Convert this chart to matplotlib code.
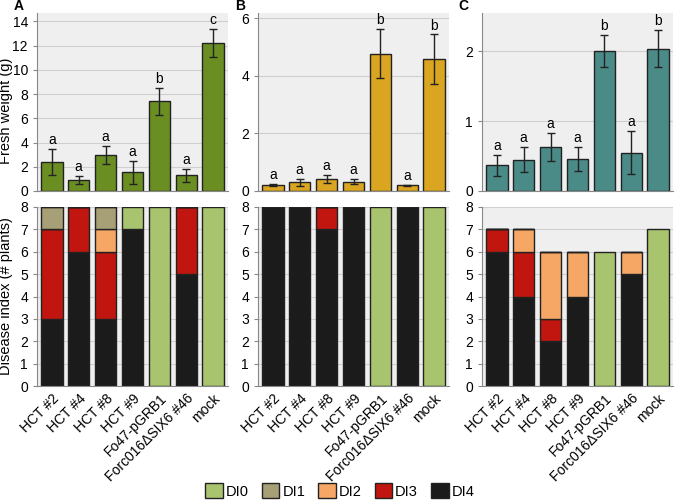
import numpy as np
import matplotlib
matplotlib.use('Agg')
import matplotlib.pyplot as plt
from matplotlib.patches import Patch

plt.rcParams['font.family'] = ['Liberation Sans', 'DejaVu Sans']

lines = ['HCT #2', 'HCT #4', 'HCT #8', 'HCT #9', 'Fo47-pGRB1', 'Forc016\u0394SIX6 #46', 'mock']

# fresh weight (g), mean and error
fw_A = [2.4, 0.9, 2.95, 1.55, 7.4, 1.3, 12.25]
err_A = [1.05, 0.35, 0.75, 0.95, 1.1, 0.55, 1.15]
let_A = ['a', 'a', 'a', 'a', 'b', 'a', 'c']
fw_B = [0.22, 0.3, 0.43, 0.32, 4.77, 0.2, 4.57]
err_B = [0.03, 0.12, 0.14, 0.09, 0.85, 0.02, 0.87]
let_B = ['a', 'a', 'a', 'a', 'b', 'a', 'b']
fw_C = [0.37, 0.45, 0.63, 0.46, 2.01, 0.55, 2.04]
err_C = [0.15, 0.18, 0.2, 0.17, 0.23, 0.31, 0.27]
let_C = ['a', 'a', 'a', 'a', 'b', 'a', 'b']

# disease index counts (# plants), DI0..DI4
di_names = ['DI0', 'DI1', 'DI2', 'DI3', 'DI4']
di_A = {'DI4': [3, 6, 3, 7, 0, 5, 0],
        'DI3': [4, 2, 3, 0, 0, 3, 0],
        'DI2': [0, 0, 1, 0, 0, 0, 0],
        'DI1': [1, 0, 1, 0, 0, 0, 0],
        'DI0': [0, 0, 0, 1, 8, 0, 8]}
di_B = {'DI4': [8, 8, 7, 8, 0, 8, 0],
        'DI3': [0, 0, 1, 0, 0, 0, 0],
        'DI2': [0, 0, 0, 0, 0, 0, 0],
        'DI1': [0, 0, 0, 0, 0, 0, 0],
        'DI0': [0, 0, 0, 0, 8, 0, 8]}
di_C = {'DI4': [6, 4, 2, 4, 0, 5, 0],
        'DI3': [1, 2, 1, 0, 0, 0, 0],
        'DI2': [0, 1, 3, 2, 0, 1, 0],
        'DI1': [0, 0, 0, 0, 0, 0, 0],
        'DI0': [0, 0, 0, 0, 6, 0, 7]}

di_col = {'DI0': '#a9c46e', 'DI1': '#a79f75', 'DI2': '#f6a765',
          'DI3': '#c0160f', 'DI4': '#1b1b1b'}

panels = [('A', fw_A, err_A, let_A, di_A, '#6b8e23', 14.7, [0, 2, 4, 6, 8, 10, 12, 14]),
          ('B', fw_B, err_B, let_B, di_B, '#daa520', 6.18, [0, 2, 4, 6]),
          ('C', fw_C, err_C, let_C, di_C, '#4a8b88', 2.55, [0, 1, 2])]

fig = plt.figure(figsize=(6.75, 5.01), dpi=100)
W, H = 675, 501
lefts = [37, 258, 482]
aw = 191
x = np.arange(len(lines))

def style(ax):
    ax.set_facecolor('#efefef')
    ax.grid(axis='y', color='#cfcfcf', lw=0.8)
    ax.set_axisbelow(True)
    for s in ['top', 'right']:
        ax.spines[s].set_visible(False)
    for s in ['left', 'bottom']:
        ax.spines[s].set_color('#888888')
    ax.tick_params(axis='both', colors='#888888', labelcolor='black', labelsize=10, length=3)
    ax.set_xlim(-0.55, 6.55)

for i, (lab, fw, err, let, di, col, ymax, yt) in enumerate(panels):
    l = lefts[i] / W
    ax = fig.add_axes([l, (H - 191) / H, aw / W, 178 / H])
    style(ax)
    ax.bar(x, fw, width=0.8, color=col, edgecolor='#222222', lw=1, zorder=2)
    ax.errorbar(x, fw, yerr=err, fmt='none', ecolor='#222222', elinewidth=1, capsize=3, zorder=3)
    for xi, v, e, t in zip(x, fw, err, let):
        ax.text(xi, v + e + ymax * 0.01, t, ha='center', va='bottom', fontsize=10)
    ax.set_ylim(0, ymax)
    ax.set_yticks(yt)
    ax.set_xticks([])
    ax.text(-0.07, 1.0, lab, transform=ax.transAxes, fontsize=10, fontweight='bold', ha='right', va='bottom')
    if i == 0:
        ax.set_ylabel('Fresh weight (g)', fontsize=10.5)
        ax.yaxis.set_label_coords(-0.125, 0.45)

    bx = fig.add_axes([l, (H - 386) / H, aw / W, 179 / H])
    style(bx)
    bottom = np.zeros(len(lines))
    for name in ['DI4', 'DI3', 'DI2', 'DI1', 'DI0']:
        vals = np.array(di[name])
        bx.bar(x, vals, bottom=bottom, width=0.8, color=di_col[name],
               edgecolor='#222222', lw=1, zorder=2)
        bottom += vals
    bx.set_ylim(0, 8)
    bx.set_yticks(range(9))
    bx.set_xticks(x)
    bx.set_xticklabels(lines, rotation=45, ha='right', rotation_mode='anchor', fontsize=10)
    bx.tick_params(axis='x', length=0, pad=4)
    if i == 0:
        bx.set_ylabel('Disease index (# plants)', fontsize=10.5)
        bx.yaxis.set_label_coords(-0.125, 0.5)

handles = [Patch(facecolor=di_col[n], edgecolor='#222222', label=n) for n in di_names]
fig.legend(handles=handles, loc='center', bbox_to_anchor=(340 / W, 1 - 491 / H), ncol=5,
           frameon=False, fontsize=10.5, handlelength=1.2, handleheight=1.2,
           handletextpad=0.2, columnspacing=0.9)

fig.savefig('out.png', dpi=100)
